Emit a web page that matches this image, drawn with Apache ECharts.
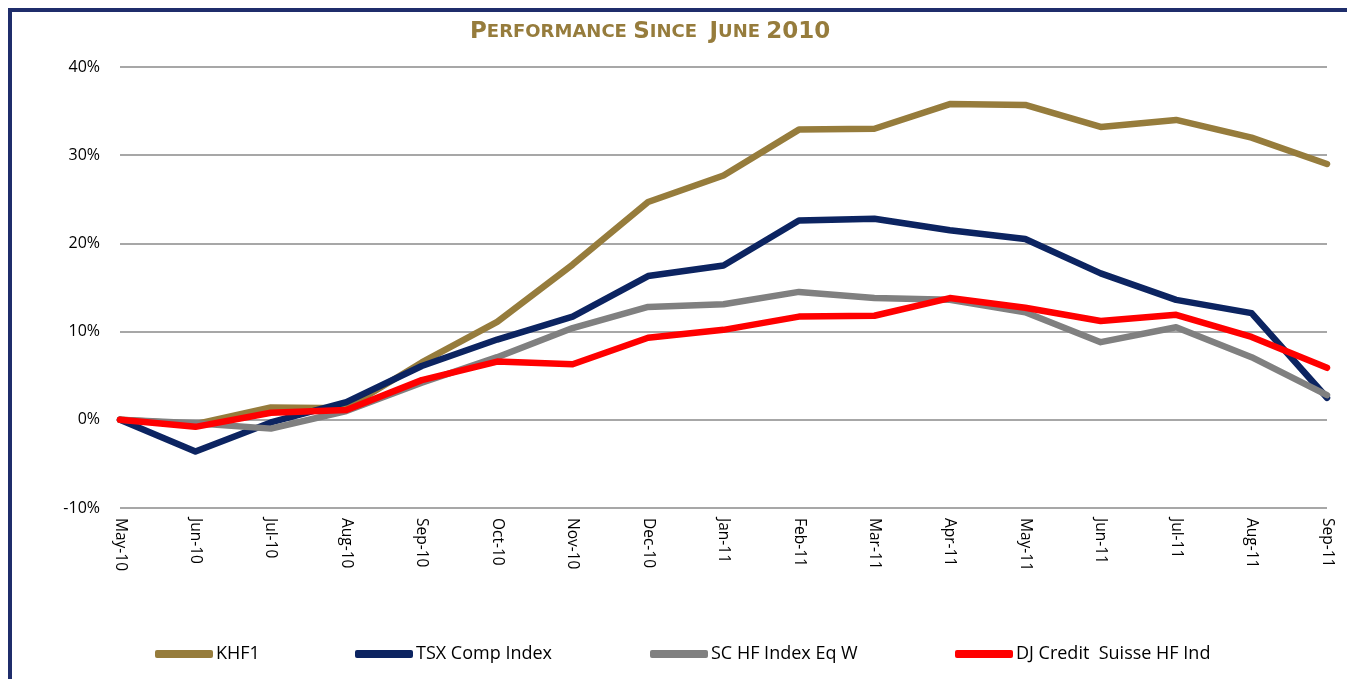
<!DOCTYPE html>
<html><head><meta charset="utf-8">
<script src="https://cdn.jsdelivr.net/npm/echarts@6/dist/echarts.min.js"></script>
<style>html,body{margin:0;padding:0;background:#fff}#c{width:1347px;height:679px}</style>
</head><body><div id="c"></div>
<script>
const categories = ['May-10','Jun-10','Jul-10','Aug-10','Sep-10','Oct-10','Nov-10','Dec-10','Jan-11','Feb-11','Mar-11','Apr-11','May-11','Jun-11','Jul-11','Aug-11','Sep-11'];
const khf1 = [0,-0.5,1.4,1.3,6.5,11.1,17.6,24.7,27.7,32.9,33.0,35.8,35.7,33.2,34.0,32.0,29.0];
const tsx = [0,-3.6,-0.3,2.0,6.1,9.1,11.7,16.3,17.5,22.6,22.8,21.5,20.5,16.6,13.6,12.1,2.5];
const schf = [0,-0.4,-1.0,1.0,4.2,7.1,10.4,12.8,13.1,14.5,13.8,13.6,12.2,8.8,10.5,7.1,2.8];
const djcs = [0,-0.8,0.8,1.1,4.5,6.6,6.3,9.3,10.2,11.7,11.8,13.8,12.7,11.2,11.9,9.4,5.9];
const seriesNames = ['KHF1','TSX Comp Index','SC HF Index Eq W','DJ Credit  Suisse HF Ind'];
const colors = ['#967C3C','#0C2461','#808080','#FF0000'];
const yTicks = {min:-10,max:40,interval:10};

const chart = echarts.init(document.getElementById('c'));
const legendLefts = [150,350,645,950];
const mk = (name, data, color) => ({
  name, type:'line', data, showSymbol:false, symbol:'none',
  lineStyle:{width:6.5,color,cap:'round',join:'round'}, itemStyle:{color}
});
chart.setOption({
  animation:false,
  title:{
    text:'{b|P}{s|ERFORMANCE }{b|S}{s|INCE  }{b|J}{s|UNE }{b|2010}',
    left:465, top:16,
    textStyle:{rich:{
      b:{fontFamily:'DejaVu Sans',fontWeight:'bold',fontSize:23,color:'#967C3C'},
      s:{fontFamily:'DejaVu Sans',fontWeight:'bold',fontSize:18,color:'#967C3C'}
    }}
  },
  graphic:[{type:'rect',shape:{x:10,y:10,width:1400,height:700},style:{fill:'none',stroke:'#1F2D6B',lineWidth:4},silent:true}],
  legend: seriesNames.map((n,i)=>({
    data:[n], left:legendLefts[i], top:640, itemWidth:58, itemHeight:8, icon:'roundRect',
    textStyle:{fontFamily:'Open Sans',fontSize:18,color:'#000',padding:[0,0,0,-2]}
  })),
  grid:{left:120,right:20,top:67,bottom:171,containLabel:false},
  xAxis:{type:'category',data:categories,boundaryGap:false,
    axisLine:{show:false},axisTick:{show:false},
    axisLabel:{rotate:-90,interval:0,fontFamily:'Open Sans',fontSize:15.5,color:'#000',margin:10}},
  yAxis:{type:'value',min:yTicks.min,max:yTicks.max,interval:yTicks.interval,
    axisLine:{show:false},axisTick:{show:false},
    axisLabel:{formatter:'{value}%',fontFamily:'Open Sans',fontSize:16,color:'#000',margin:20},
    splitLine:{lineStyle:{color:'#8A8A8A',width:1.5}}},
  series:[mk(seriesNames[0],khf1,colors[0]),mk(seriesNames[1],tsx,colors[1]),mk(seriesNames[2],schf,colors[2]),mk(seriesNames[3],djcs,colors[3])]
});
</script></body></html>
